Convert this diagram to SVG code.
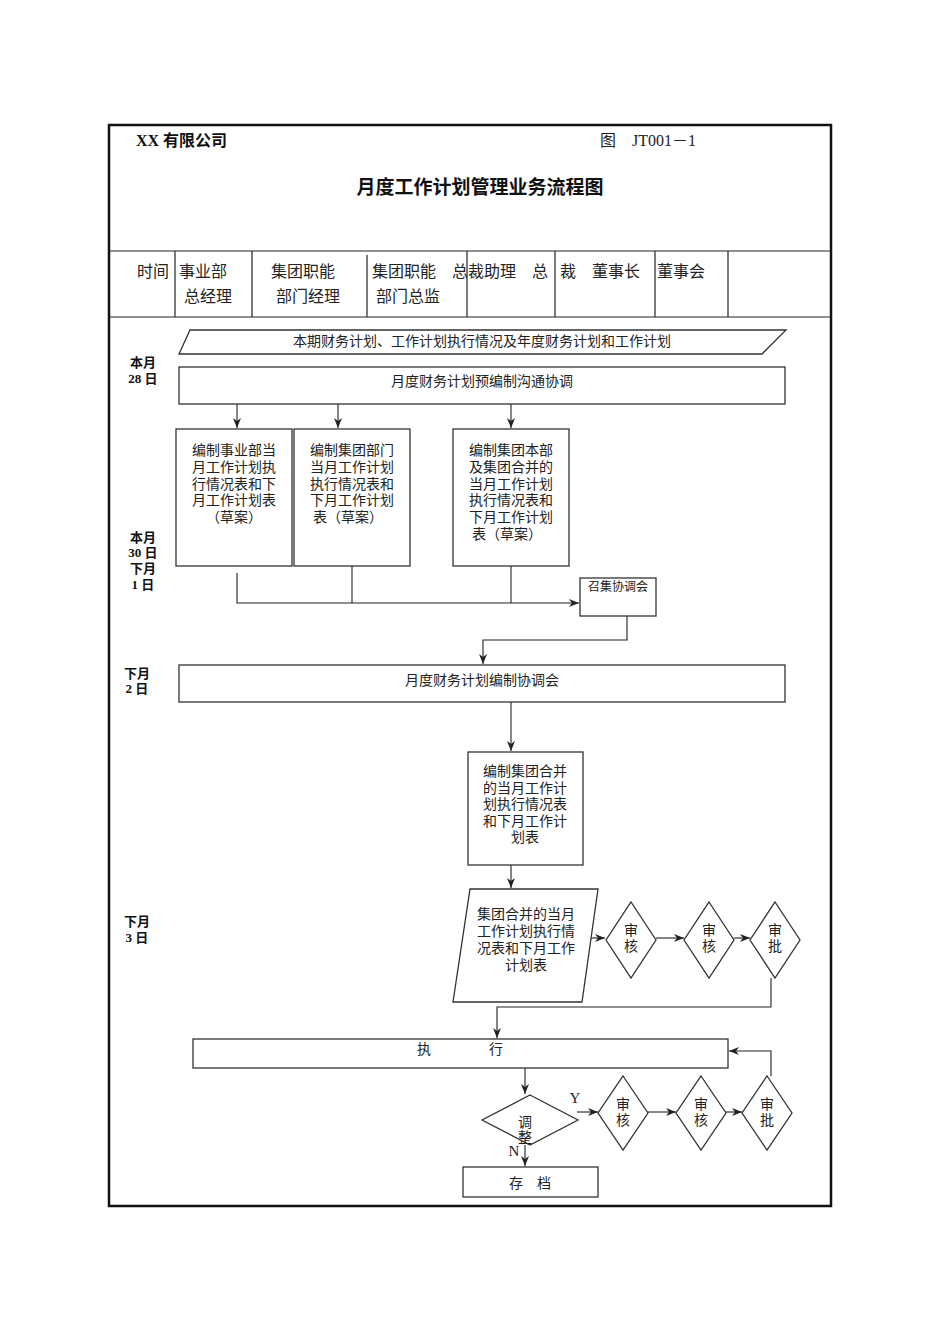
<svg xmlns="http://www.w3.org/2000/svg" width="950" height="1344" viewBox="0 0 950 1344">
<style>
text{font-family:"Liberation Serif","Noto Sans CJK SC",serif;fill:#222}
.hd{font-size:16px}
.b{font-size:14px;text-anchor:middle}
.s{font-size:12px;text-anchor:middle}
.t{font-size:13px;font-weight:bold;text-anchor:middle;fill:#111}
.box{fill:#fff;stroke:#333;stroke-width:1.3}
.ln{fill:none;stroke:#222;stroke-width:1.1}
.grid{stroke:#222;stroke-width:1.2}
</style>
<defs>
<marker id="ar" markerUnits="userSpaceOnUse" markerWidth="10" markerHeight="8" refX="10" refY="4" orient="auto">
<path d="M0,0 L10,4 L0,8 L3,4 z" fill="#222"/>
</marker>
</defs>
<rect width="950" height="1344" fill="#fff"/>
<g id="frame">
<rect x="109" y="125" width="722" height="1081" fill="none" stroke="#111" stroke-width="2.5"/>
<line class="grid" x1="109" y1="251" x2="831" y2="251"/>
<line class="grid" x1="109" y1="317" x2="831" y2="317"/>
<line class="grid" x1="175" y1="251" x2="175" y2="317"/>
<line class="grid" x1="252" y1="251" x2="252" y2="317"/>
<line class="grid" x1="367" y1="255" x2="367" y2="317"/>
<line class="grid" x1="467" y1="251" x2="467" y2="317"/>
<line class="grid" x1="555" y1="251" x2="555" y2="317"/>
<line class="grid" x1="655" y1="251" x2="655" y2="317"/>
<line class="grid" x1="728" y1="251" x2="728" y2="317"/>
</g>
<g id="header">
<text x="136" y="146" style="font-size:16px;font-weight:bold;fill:#111">XX 有限公司</text>
<text x="600" y="146" style="font-size:16px">图　JT001－1</text>
<text x="480" y="194" style="font-size:19px;font-weight:bold;text-anchor:middle;fill:#111">月度工作计划管理业务流程图</text>
<text class="hd" x="137" y="277">时间</text>
<text class="hd" x="179" y="277">事业部</text>
<text class="hd" x="184" y="302">总经理</text>
<text class="hd" x="271" y="277">集团职能</text>
<text class="hd" x="276" y="302">部门经理</text>
<text class="hd" x="372" y="277">集团职能　总裁助理　总</text>
<text class="hd" x="376" y="302">部门总监</text>
<text class="hd" x="560" y="277">裁　董事长</text>
<text class="hd" x="657" y="277">董事会</text>
</g>
<g id="time">
<text class="t" x="143" y="367">本月</text>
<text class="t" x="143" y="383">28 日</text>
<text class="t" x="143" y="542">本月</text>
<text class="t" x="143" y="557">30 日</text>
<text class="t" x="143" y="573">下月</text>
<text class="t" x="143" y="589">1 日</text>
<text class="t" x="137" y="678">下月</text>
<text class="t" x="137" y="693">2 日</text>
<text class="t" x="137" y="926">下月</text>
<text class="t" x="137" y="942">3 日</text>
</g>
<g id="connectors">
<line class="ln" x1="237" y1="404" x2="237" y2="428" marker-end="url(#ar)"/>
<line class="ln" x1="338" y1="404" x2="338" y2="428" marker-end="url(#ar)"/>
<line class="ln" x1="511" y1="404" x2="511" y2="428" marker-end="url(#ar)"/>
<polyline class="ln" points="237,573 237,603 579,603" marker-end="url(#ar)"/>
<line class="ln" x1="352" y1="566" x2="352" y2="603"/>
<line class="ln" x1="511" y1="566" x2="511" y2="603"/>
<polyline class="ln" points="627,616 627,640 483,640 483,664" marker-end="url(#ar)"/>
<line class="ln" x1="511" y1="702" x2="511" y2="751" marker-end="url(#ar)"/>
<line class="ln" x1="511" y1="865" x2="511" y2="888" marker-end="url(#ar)"/>
<line class="ln" x1="587" y1="938" x2="605" y2="938" marker-end="url(#ar)"/>
<line class="ln" x1="656" y1="938" x2="684" y2="938" marker-end="url(#ar)"/>
<line class="ln" x1="734" y1="938" x2="750" y2="938" marker-end="url(#ar)"/>
<polyline class="ln" points="771,978 771,1007 497,1007 497,1038" marker-end="url(#ar)"/>
<line class="ln" x1="525" y1="1068" x2="525" y2="1094" marker-end="url(#ar)"/>
<line class="ln" x1="577" y1="1112" x2="598" y2="1112" marker-end="url(#ar)"/>
<line class="ln" x1="648" y1="1112" x2="676" y2="1112" marker-end="url(#ar)"/>
<line class="ln" x1="726" y1="1112" x2="742" y2="1112" marker-end="url(#ar)"/>
<polyline class="ln" points="771,1076 771,1051 729,1051" marker-end="url(#ar)"/>
<line class="ln" x1="525" y1="1145" x2="525" y2="1166" marker-end="url(#ar)"/>
</g>
<g id="n_input">
<polygon class="box" points="190,330 786,330 762,354 179,354"/>
<text class="b" x="482" y="346">本期财务计划、工作计划执行情况及年度财务计划和工作计划</text>
</g>
<g id="n_pre">
<rect class="box" x="179" y="367" width="606" height="37"/>
<text class="b" x="482" y="386">月度财务计划预编制沟通协调</text>
</g>
<g id="n_a">
<rect class="box" x="176" y="429" width="116" height="137"/>
<text class="b" x="234" y="455">编制事业部当</text>
<text class="b" x="234" y="472">月工作计划执</text>
<text class="b" x="234" y="489">行情况表和下</text>
<text class="b" x="234" y="505">月工作计划表</text>
<text class="b" x="234" y="522">（草案）</text>
</g>
<g id="n_b">
<rect class="box" x="294" y="429" width="116" height="137"/>
<text class="b" x="352" y="455">编制集团部门</text>
<text class="b" x="352" y="472">当月工作计划</text>
<text class="b" x="352" y="489">执行情况表和</text>
<text class="b" x="352" y="505">下月工作计划</text>
<text class="b" x="348" y="522">表（草案）</text>
</g>
<g id="n_c">
<rect class="box" x="453" y="429" width="116" height="137"/>
<text class="b" x="511" y="455">编制集团本部</text>
<text class="b" x="511" y="472">及集团合并的</text>
<text class="b" x="511" y="489">当月工作计划</text>
<text class="b" x="511" y="505">执行情况表和</text>
<text class="b" x="511" y="522">下月工作计划</text>
<text class="b" x="507" y="539">表（草案）</text>
</g>
<g id="n_meet">
<rect class="box" x="580" y="578" width="76" height="38"/>
<text class="s" x="618" y="591">召集协调会</text>
</g>
<g id="n_coord">
<rect class="box" x="179" y="665" width="606" height="37"/>
<text class="b" x="482" y="685">月度财务计划编制协调会</text>
</g>
<g id="n_merge">
<rect class="box" x="468" y="752" width="115" height="113"/>
<text class="b" x="525" y="776">编制集团合并</text>
<text class="b" x="525" y="793">的当月工作计</text>
<text class="b" x="525" y="809">划执行情况表</text>
<text class="b" x="525" y="826">和下月工作计</text>
<text class="b" x="525" y="842">划表</text>
</g>
<g id="n_doc">
<polygon class="box" points="470,889 598,889 582,1002 453,1002"/>
<text class="b" x="526" y="919">集团合并的当月</text>
<text class="b" x="526" y="936">工作计划执行情</text>
<text class="b" x="526" y="953">况表和下月工作</text>
<text class="b" x="526" y="970">计划表</text>
</g>
<g id="n_d1">
<polygon class="box" points="631,902 656,940 631,978 606,940"/>
<text class="b" x="631" y="935">审</text>
<text class="b" x="631" y="951">核</text>
</g>
<g id="n_d2">
<polygon class="box" points="709,902 734,940 709,978 684,940"/>
<text class="b" x="709" y="935">审</text>
<text class="b" x="709" y="951">核</text>
</g>
<g id="n_d3">
<polygon class="box" points="775,902 800,940 775,978 750,940"/>
<text class="b" x="775" y="935">审</text>
<text class="b" x="775" y="951">批</text>
</g>
<g id="n_exec">
<rect class="box" x="193" y="1039" width="535" height="29"/>
<text class="b" x="424" y="1054">执</text>
<text class="b" x="496" y="1054">行</text>
</g>
<g id="n_adj">
<polygon class="box" points="530,1095 578,1120 530,1145 482,1120"/>
<text class="b" x="525" y="1127">调</text>
<text class="b" x="525" y="1142">整</text>
<text x="575" y="1103" style="font-size:15px;text-anchor:middle">Y</text>
<text x="514" y="1156" style="font-size:15px;text-anchor:middle">N</text>
</g>
<g id="n_e1">
<polygon class="box" points="623,1076 648,1113 623,1150 598,1113"/>
<text class="b" x="623" y="1109">审</text>
<text class="b" x="623" y="1125">核</text>
</g>
<g id="n_e2">
<polygon class="box" points="701,1076 726,1113 701,1150 676,1113"/>
<text class="b" x="701" y="1109">审</text>
<text class="b" x="701" y="1125">核</text>
</g>
<g id="n_e3">
<polygon class="box" points="767,1076 792,1113 767,1150 742,1113"/>
<text class="b" x="767" y="1109">审</text>
<text class="b" x="767" y="1125">批</text>
</g>
<g id="n_archive">
<rect class="box" x="463" y="1167" width="135" height="30"/>
<text class="b" x="530" y="1188">存　档</text>
</g>
</svg>
